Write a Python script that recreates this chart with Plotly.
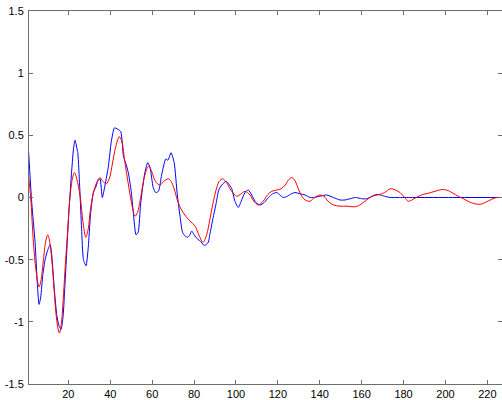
import plotly.graph_objects as go

# Blue series (sample index, value)
blue_x = [1, 2.5, 4.1, 5.2, 6.0, 6.8, 7.8, 8.9, 10, 11.3, 12.1, 13.2, 14.5, 15.5, 16.5, 17.5, 18.3, 19.2,
          20.3, 21.6, 22.5, 23.2, 24.0, 24.5, 25.5, 26.3, 27.2, 28.4, 29.5, 30.5, 31.9, 33, 34, 35.1, 36.2,
          37.5, 39.1, 40.5, 42, 43.5, 45, 46.3, 47.5, 48.6, 50, 51, 52.3, 53.3, 54.5, 56.5, 57.9, 59, 60.5,
          61.7, 63, 64.5, 66.5, 67.5, 69, 70.5, 72, 73.3, 74.5, 75.7, 77, 78, 78.9, 80, 82, 83, 84.4, 85.2,
          86.8, 87.5, 89, 90.5, 91.8, 93.2, 95.3, 96.5, 98, 99.5, 101.1, 102.5, 104.3, 105.9, 107.5, 109.5,
          111.5, 113.5, 115.5, 117.5, 119.5, 121, 122.6, 124.5, 126.5, 128.2, 130.6, 133, 135.4, 137, 140,
          143.3, 146.5, 149.7, 152, 154.5, 157, 160, 162.4, 165, 167.2, 169, 171, 173.6, 178, 185, 200, 227]
blue_y = [0.37, -0.04, -0.36, -0.70, -0.86, -0.80, -0.62, -0.50, -0.43, -0.38, -0.47, -0.72, -0.95, -1.03,
          -1.06, -0.95, -0.72, -0.44, -0.10, 0.22, 0.40, 0.46, 0.40, 0.36, 0.05, -0.25, -0.50, -0.55, -0.40,
          -0.15, 0.04, 0.08, 0.13, 0.15, 0.00, 0.10, 0.25, 0.45, 0.56, 0.55, 0.53, 0.33, 0.27, 0.20, 0.05,
          -0.12, -0.30, -0.28, -0.05, 0.20, 0.28, 0.24, 0.08, 0.04, 0.05, 0.18, 0.31, 0.30, 0.36, 0.28, 0.02,
          -0.15, -0.28, -0.31, -0.32, -0.30, -0.27, -0.30, -0.34, -0.35, -0.38, -0.385, -0.36, -0.30, -0.17,
          -0.05, 0.06, 0.10, 0.13, 0.11, 0.07, -0.03, -0.08, -0.03, 0.04, 0.06, 0.02, -0.04, -0.06, -0.04,
          0.00, 0.03, 0.04, 0.02, 0.00, 0.01, 0.03, 0.04, 0.03, 0.02, 0.00, 0.00, 0.01, 0.02, 0.00, -0.02,
          -0.02, -0.01, 0.00, -0.01, -0.01, 0.01, 0.025, 0.02, 0.01, 0.00, 0.00, 0.00, 0.00, 0.00]

# Red series
red_x = [1, 2, 3.3, 4.5, 6.0, 7, 8.1, 9.2, 10.2, 11.1, 12.1, 13, 14, 15, 15.7, 16.6, 17.5, 18.4, 19.6, 20.8,
         22, 22.9, 24, 25.6, 27, 28.3, 29.5, 30.5, 32, 33.5, 35, 36.5, 38, 39.5, 41, 42.5, 44.3, 45.5, 47,
         48.5, 50, 51.8, 53, 54.5, 56.5, 58.2, 59.5, 61, 62.5, 63.8, 65.5, 67.7, 69, 70.5, 72, 74, 76, 78.1,
         80.5, 82.5, 84.3, 86, 87.5, 89, 90.5, 92, 93.7, 95.5, 97.5, 100.4, 102.5, 104.3, 106.7, 108.5,
         110.7, 113, 115, 117.1, 119.5, 121.5, 123.5, 125, 126.6, 128, 130, 131.5, 133, 135.4, 137.5, 140.1,
         142, 144, 146.5, 149.7, 153, 156, 158, 160, 162.4, 165, 168.8, 171, 173.6, 175.5, 178.3, 180.5,
         182.3, 184, 186, 189.4, 192, 195, 199, 202, 205, 208.6, 212, 216.5, 219, 222, 224.5, 227]
red_y = [0.17, 0.0, -0.36, -0.58, -0.72, -0.66, -0.50, -0.35, -0.30, -0.36, -0.50, -0.70, -0.92, -1.05,
         -1.09, -1.02, -0.83, -0.58, -0.28, 0.01, 0.16, 0.20, 0.15, 0.01, -0.20, -0.32, -0.25, -0.10, 0.04,
         0.12, 0.16, 0.13, 0.11, 0.15, 0.27, 0.40, 0.49, 0.45, 0.28, 0.12, -0.03, -0.15, -0.12, 0.00, 0.18,
         0.25, 0.22, 0.15, 0.11, 0.10, 0.13, 0.15, 0.13, 0.07, -0.02, -0.10, -0.15, -0.19, -0.23, -0.31,
         -0.36, -0.30, -0.18, -0.05, 0.06, 0.13, 0.15, 0.12, 0.06, 0.01, 0.03, 0.05, 0.02, -0.03, -0.06,
         -0.03, 0.02, 0.05, 0.06, 0.07, 0.10, 0.14, 0.16, 0.14, 0.06, 0.01, -0.02, -0.03, 0.00, 0.02, 0.01,
         -0.03, -0.06, -0.07, -0.07, -0.075, -0.07, -0.05, -0.02, 0.01, 0.025, 0.04, 0.07, 0.065, 0.04, 0.0,
         -0.03, -0.02, 0.0, 0.025, 0.035, 0.05, 0.065, 0.05, 0.02, -0.01, -0.04, -0.055, -0.04, -0.015, 0.0,
         0.0]

x_ticks = [20, 40, 60, 80, 100, 120, 140, 160, 180, 200, 220]
y_ticks = [-1.5, -1, -0.5, 0, 0.5, 1, 1.5]
y_tick_text = ["-1.5", "-1", "-0.5", "0", "0.5", "1", "1.5"]

fig = go.Figure()
fig.add_trace(go.Scatter(x=blue_x, y=blue_y, mode="lines",
                         line=dict(color="#0000ff", width=1, shape="spline", smoothing=0.6)))
fig.add_trace(go.Scatter(x=red_x, y=red_y, mode="lines",
                         line=dict(color="#ff0000", width=1, shape="spline", smoothing=0.9)))

axis_common = dict(showgrid=False, zeroline=False, showline=True, linecolor="#6e6e6e", linewidth=1,
                   ticks="inside", ticklen=4, tickcolor="#6e6e6e", mirror="ticks", automargin=False,
                   tickfont=dict(family="Liberation Sans, Arial, sans-serif", size=11, color="#000000"))

fig.update_layout(
    width=502, height=400,
    margin=dict(l=29, r=0, t=11, b=16, autoexpand=False),
    paper_bgcolor="white", plot_bgcolor="white",
    showlegend=False,
    xaxis=dict(range=[1.2, 227], tickvals=x_ticks, ticklabelstandoff=0, **axis_common),
    yaxis=dict(range=[-1.5, 1.5], tickvals=y_ticks, ticktext=y_tick_text, ticklabelstandoff=2, **axis_common),
)

fig.write_html("out.html", config={"displayModeBar": False},
               post_script="document.body.style.margin='0';document.body.style.overflow='hidden';")
